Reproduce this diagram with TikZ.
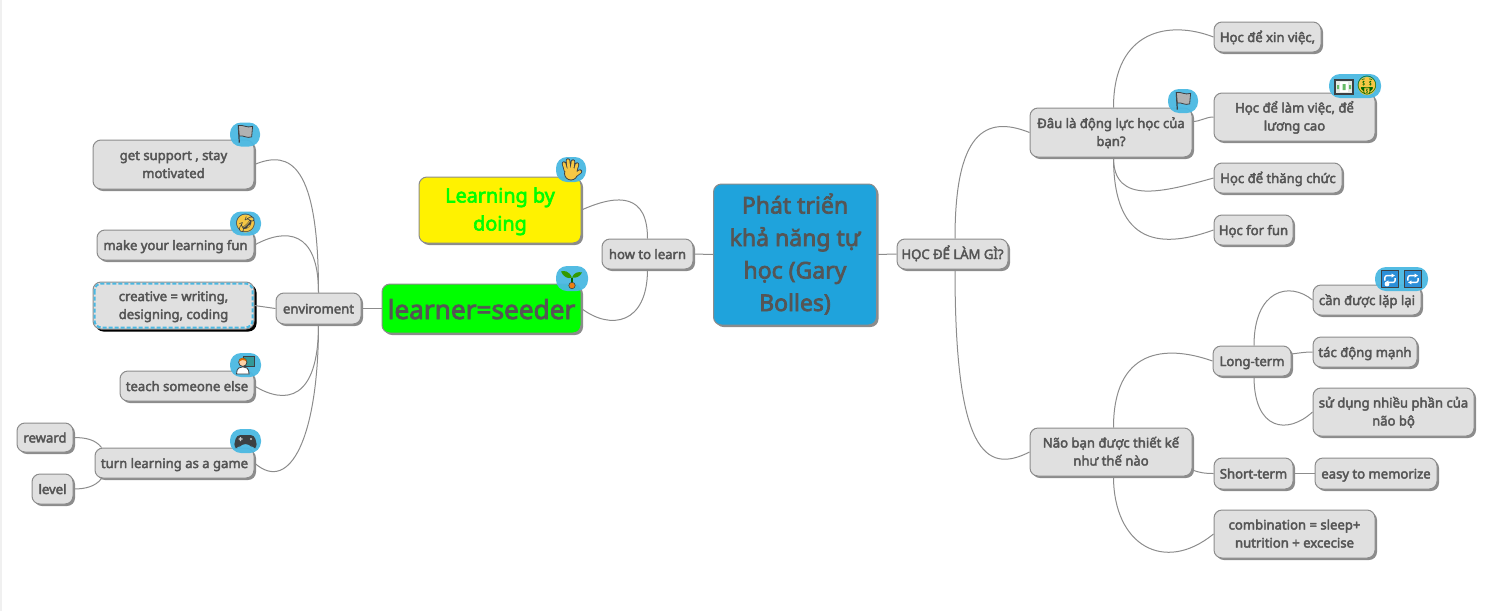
\documentclass[tikz,border=0pt]{standalone}
\usepackage{fontspec}
\setmainfont{Noto Sans}[FakeBold=3]
\newfontfamily\emoji{Noto Emoji}
\usetikzlibrary{shadows,arrows.meta}

\definecolor{inkgray}{HTML}{555555}
\definecolor{topicgray}{HTML}{E0E0E0}
\definecolor{linegray}{HTML}{8C8C8C}
\definecolor{rootblue}{HTML}{1FA3DC}
\definecolor{badgeblue}{HTML}{4AB8E2}
\definecolor{repeatblue}{HTML}{2C8FD8}
\definecolor{faceyellow}{HTML}{F6C744}
\definecolor{iconink}{HTML}{3C4043}

\tikzset{
    box/.style 2 args={minimum width=#1,minimum height=#2},
    topic/.style={draw=linegray,line width=1pt,fill=topicgray,rounded corners=8pt,inner sep=0pt,
        align=center,text=inkgray,font=\fontsize{13.1}{18}\selectfont,text height=10pt,text depth=0pt,
        general shadow={shadow xshift=2pt,shadow yshift=-2pt,fill=black,opacity=.45}},
    twoline/.style={text height=27pt},
    link/.style={draw=linegray,line width=1pt},
    badge/.style={fill=badgeblue,rounded corners=11pt,inner sep=0pt,opacity=.95},
    icon/.style={inner sep=0pt,font=\emoji\fontsize{18}{18}\selectfont,text=iconink},
    flagicon/.pic={
        \draw[iconink,line width=1.2pt] (-6,9) -- (-7,-9);
        \filldraw[draw=iconink,fill=black!30,line width=.8pt] (-7,-9) .. controls (-2,-10) and (2,-6) .. (8,-8) -- (7,3) .. controls (2,5) and (-2,1) .. (-6,2) -- cycle;
    },
    handicon/.pic={
        \draw[iconink,line width=4.4pt,line cap=round] (-4,1) -- (-6,-6) (-1,0) -- (-2,-9) (2,0) -- (3,-8) (5,2) -- (7,-5) (6,5) -- (10,2);
        \filldraw[draw=iconink,fill=faceyellow,line width=.8pt] (1,4) circle (6.5);
        \draw[faceyellow,line width=2.8pt,line cap=round] (-4,1) -- (-6,-6) (-1,0) -- (-2,-9) (2,0) -- (3,-8) (5,2) -- (7,-5) (6,5) -- (10,2);
    },
    seedicon/.pic={
        \draw[black!60!green,line width=1.4pt] (0,-1) -- (0,6);
        \fill[green!50!black!80!yellow] (0,-1) .. controls (-3,-8) and (-8,-8) .. (-11,-7) .. controls (-9,-2) and (-4,1) .. (0,-1);
        \fill[green!50!black!80!yellow] (0,-1) .. controls (2,-6) and (6,-7) .. (10,-6) .. controls (8,-2) and (4,0) .. (0,-1);
        \filldraw[draw=iconink,fill=orange!70!brown,line width=.6pt] (0,7) circle (3.2);
    },
    teachicon/.pic={
        \filldraw[draw=iconink,fill=teal!80,line width=1pt] (-2,-10) rectangle (10,2);
        \filldraw[draw=iconink,fill=white,line width=.8pt] (-10,10) .. controls (-10,3) and (-6,2) .. (-3,2) .. controls (0,2) and (4,3) .. (4,10) -- cycle;
        \filldraw[draw=iconink,fill=orange!35,line width=.8pt] (-3,-3) circle (4.6);
        \fill[orange!85!black] (-7.5,-4) .. controls (-7,-9) and (0,-9) .. (1.5,-4) .. controls (-2,-6) and (-5,-6) .. (-7.5,-4);
    },
    gameicon/.pic={
        \fill[iconink,rounded corners=4pt] (-9,-6) -- (9,-6) -- (12,7) -- (7,7) -- (4,3) -- (-4,3) -- (-7,7) -- (-12,7) -- cycle;
        \fill[black!20] (-7,-2.6) rectangle (-3,-1.4) (-5.6,-4) rectangle (-4.4,0) (5.5,-2) circle (1.1);
    },
    noteicon/.pic={
        \filldraw[draw=iconink,fill=green!15!black!10,line width=1.2pt] (-9,-7) rectangle (9,7);
        \fill[white] (-4,-5) rectangle (4,5);
        \fill[green!55!black!60] (-7,-2) rectangle (-5,2) (5,-2) rectangle (7,2) (-1.5,-3) rectangle (1.5,3);
    },
    loopicon/.pic={
        \filldraw[draw=iconink,fill=repeatblue,line width=1pt] (-10,-10) rectangle (10,10);
        \draw[white,line width=1.4pt,rounded corners=2pt,-{Latex[length=3.5pt,width=4.5pt]}] (-6,2) -- (-6,-4) -- (6,-4);
        \draw[white,line width=1.4pt,rounded corners=2pt,-{Latex[length=3.5pt,width=4.5pt]}] (6,-1) -- (6,4) -- (-6,4);
    },
}

\begin{document}
\begin{tikzpicture}[x=1pt,y=-1pt]
    \useasboundingbox (0,0) rectangle (1500,611);
    \fill[black!6] (0,0) rectangle (2,611);

    % root
    \node[topic,box={163}{141},fill=rootblue,font=\fontsize{23}{32.5}\selectfont,text height=113pt] (root) at (795,254.5) {Phát triển\\khả năng tự\\học (Gary\\Bolles)};

    % how to learn
    \node[topic,box={91}{30}] (how) at (647.5,254) {how to learn};
    \node[topic,box={162}{66},fill=yellow,text=green,font=\fontsize{19.8}{28}\selectfont,text height=41pt] (doing) at (500,210) {Learning by\\doing};
    \node[topic,box={199}{49},fill=green,font=\fontsize{26.2}{30}\selectfont,text height=21pt] (seeder) at (481.5,308.5) {learner=seeder};
    \node[topic,box={85}{31}] (env) at (318.5,308.5) {enviroment};
    \node[topic,twoline,box={161}{49}] (support) at (173.5,164.5) {get support , stay\\motivated};
    \node[topic,box={157}{30}] (funny) at (175.5,245) {make your learning fun};
    \node[topic,twoline,box={161}{47},general shadow={shadow xshift=2.5pt,shadow yshift=-2.5pt,fill=black}] (creative) at (173.5,305.5) {creative = writing,\\designing, coding};
    \draw[badgeblue,line width=2pt,dash pattern=on 4pt off 2pt,rounded corners=7pt] (94.5,283.5) rectangle (252.5,327.5);
    \node[topic,box={134}{30}] (teach) at (187,386) {teach someone else};
    \node[topic,box={159}{30}] (game) at (174.5,463) {turn learning as a game};
    \node[topic,box={56}{29}] (reward) at (45,437.5) {reward};
    \node[topic,box={41}{30}] (level) at (52.5,489) {level};

    \draw[link] (how.east) -- (root.west);
    \draw[link] (how.north) .. controls +(0,-44) and +(38,-17) .. (doing.east);
    \draw[link] (how.south) .. controls +(0,55) and +(29,22) .. (seeder.east);
    \draw[link] (env.east) -- (seeder.west);
    \draw[link] (env.north) .. controls +(0,-128) and +(36,-15) .. (support.east);
    \draw[link] (env.north) .. controls +(0,-63) and +(31,-17) .. (funny.east);
    \draw[link] (env.west) -- (creative.east);
    \draw[link] (env.south) .. controls +(0,76) and +(31,19) .. (teach.east);
    \draw[link] (env.south) .. controls +(0,111) and +(36,32) .. (game.east);
    \draw[link] ([xshift=7pt]game.north west) .. controls +(-6,-8) and +(12,0) .. (reward.east);
    \draw[link] ([xshift=7pt]game.south west) .. controls +(-6,8) and +(12,0) .. (level.east);

    % hoc de lam gi
    \node[topic,box={111}{30}] (hoc) at (952.5,254) {HỌC ĐỂ LÀM GÌ?};
    \node[topic,twoline,box={162}{49}] (dau) at (1111,132.5) {Đâu là động lực học của\\bạn?};
    \node[topic,box={107}{30}] (xin) at (1267.5,37) {Học để xin việc,};
    \node[topic,twoline,box={161}{48}] (lam) at (1294.5,117) {Học để làm việc, để\\lương cao};
    \node[topic,box={128}{30}] (thang) at (1278,178) {Học để thăng chức};
    \node[topic,box={79}{30}] (forfun) at (1253.5,230) {Học for fun};
    \node[topic,twoline,box={162}{48}] (nao) at (1111,452) {Não bạn được thiết kế\\như thế nào};
    \node[topic,box={78}{30}] (long) at (1252,361) {Long-term};
    \node[topic,box={108}{30}] (can) at (1367,300) {cần được lặp lại};
    \node[topic,box={104}{30}] (tac) at (1365,352) {tác động mạnh};
    \node[topic,twoline,box={161}{48}] (sudung) at (1393.5,412) {sử dụng nhiều phần của\\não bộ};
    \node[topic,box={79}{31}] (short) at (1253.5,473.5) {Short-term};
    \node[topic,box={122}{31}] (easy) at (1376,473.5) {easy to memorize};
    \node[topic,twoline,box={161}{48}] (combo) at (1294.5,534) {combination = sleep+\\nutrition + excecise};

    \draw[link] (root.east) -- (hoc.west);
    \draw[link] ([xshift=2.5pt]hoc.north) .. controls +(0,-105) and +(-45,-18) .. (dau.west);
    \draw[link] ([xshift=2.5pt]hoc.south) .. controls +(0,181) and +(-45,23) .. (nao.west);
    \draw[link] ([xshift=2.5pt]dau.north) .. controls +(0,-78) and +(-44,-17) .. (xin.west);
    \draw[link] ([yshift=11pt]dau.east) .. controls +(8,0) and +(-8,0) .. (lam.west);
    \draw[link] ([xshift=2.5pt]dau.south) .. controls +(0,48) and +(-50,14) .. (thang.west);
    \draw[link] ([xshift=2.5pt]dau.south) .. controls +(0,90) and +(-50,18) .. (forfun.west);
    \draw[link] ([xshift=2.5pt]nao.north) .. controls +(0,-78) and +(-48,-17) .. (long.west);
    \draw[link] ([yshift=-18pt]nao.east) .. controls +(8,3) and +(-8,0) .. (short.west);
    \draw[link] ([xshift=2.5pt]nao.south) .. controls +(0,69) and +(-49,40) .. (combo.west);
    \draw[link] (short.east) -- (easy.west);
    \draw[link] ([xshift=2pt]long.north) .. controls +(0,-56) and +(-23,-19) .. (can.west);
    \draw[link] ([yshift=7pt]long.east) .. controls +(8,-1) and +(-8,0) .. (tac.west);
    \draw[link] ([xshift=2pt]long.south) .. controls +(0,54) and +(-25,23) .. (sudung.west);

    % badges
    \node[badge,box={30}{24}] (bdsupport) at (245,134.5) {};
    \pic[scale=.95] at (245,134) {flagicon};
    \node[badge,box={31}{24}] (bdfunny) at (245.5,223.5) {};
    \fill[faceyellow] (245.5,223.5) circle (9);
    \node[icon] (icfunny) at (245.5,223.5) {🤣};
    \node[badge,box={31}{24}] (bdteach) at (245.5,365) {};
    \pic[scale=.9] at (245.5,365) {teachicon};
    \node[badge,box={31}{24}] (bdgame) at (245.5,441) {};
    \pic at (245.5,441) {gameicon};
    \node[badge,box={30}{25}] (bddoing) at (571,169.5) {};
    \pic at (570,169.5) {handicon};
    \node[badge,box={32}{25}] (bdseeder) at (572,278.5) {};
    \pic at (572,278.5) {seedicon};
    \node[badge,box={30}{24}] (bddau) at (1183,101) {};
    \pic[scale=.95] at (1183,101) {flagicon};
    \node[badge,box={52}{24}] (bdlam) at (1355,86) {};
    \pic at (1344,87) {noteicon};
    \fill[faceyellow] (1367,86) circle (9);
    \node[icon,text=green!40!black] (icface) at (1367,86) {🤑};
    \node[badge,box={53}{24}] (bdcan) at (1401.5,279) {};
    \pic[scale=.85] at (1390,279) {loopicon};
    \fill[white] (1387,284) circle (2.4);
    \pic[scale=.85] at (1413,279) {loopicon};
\end{tikzpicture}
\end{document}
